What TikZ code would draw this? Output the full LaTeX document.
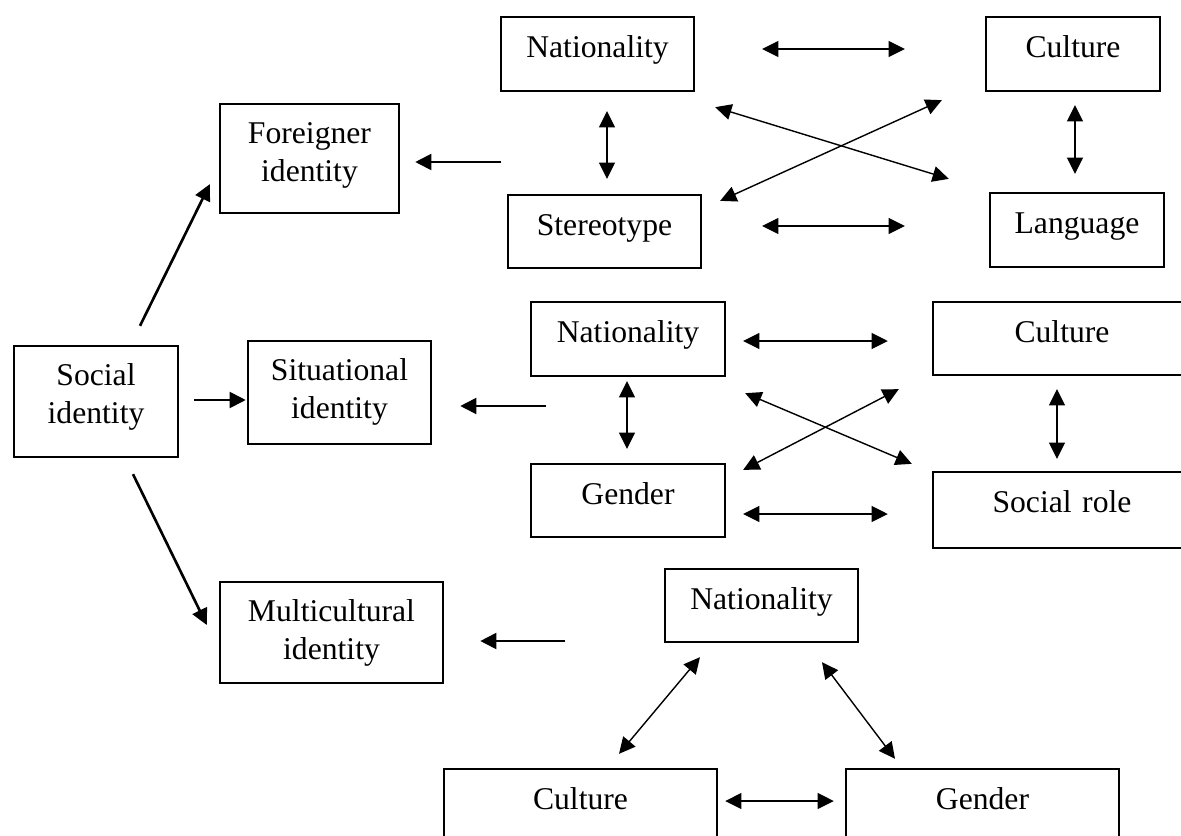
\documentclass[tikz,border=0pt]{standalone}
\usepackage{fontspec}
\setmainfont{Liberation Serif}
\usepackage{tikz}
\usetikzlibrary{arrows.meta, positioning}

\begin{document}
\begin{tikzpicture}[>={Triangle[length=4.6pt,width=4.5pt]}, x=0.01cm, y=-0.01cm,
        font=\fontsize{9}{10.8}\selectfont]
        \tikzstyle{box}=[draw=black, line width=0.65pt, inner sep=0pt, align=center, text height=0.4cm]
        \tikzstyle{link}=[<->, line width=0.4pt]
        \tikzstyle{feed}=[->, line width=0.75pt]
        \clip (0,0) rectangle (1181,836);
        % left column
        \node[box, text width=1.64cm, text depth=0.71cm](social) at (96,401.5){Social\\identity};
        \node[box, text width=1.79cm, text depth=0.69cm](foreign) at (309.5,158.5){Foreigner\\identity};
        \node[box, text width=1.83cm, text depth=0.63cm](situ) at (339.5,392.5){Situational\\identity};
        \node[box, text width=2.23cm, text depth=0.61cm](multi) at (331.5,632.5){Multicultural\\identity};
        % first group
        \node[box, text width=1.93cm, text depth=0.34cm](natA) at (597.5,54){Nationality};
        \node[box, text width=1.74cm, text depth=0.34cm](cultA) at (1073,54){Culture};
        \node[box, text width=1.93cm, text depth=0.33cm](stereo) at (604.5,231.5){Stereotype};
        \node[box, text width=1.74cm, text depth=0.34cm](lang) at (1077,230){Language};
        % second group
        \node[box, text width=1.94cm, text depth=0.34cm](natB) at (628,339){Nationality};
        \node[box, text width=2.58cm, text depth=0.33cm](cultB) at (1062,338.5){Culture};
        \node[box, text width=1.94cm, text depth=0.33cm](gendB) at (628,500.5){Gender};
        \node[box, text width=2.58cm, text depth=0.36cm](role) at (1062,510){Social role};
        % third group
        \node[box, text width=1.93cm, text depth=0.33cm](natC) at (761.5,605.5){Nationality};
        \node[box, text width=2.73cm, text depth=0.34cm](cultC) at (580.5,806){Culture};
        \node[box, text width=2.73cm, text depth=0.34cm](gendC) at (982.5,806){Gender};

        \coordinate (grpA) at (501,162);
        \coordinate (grpB) at (546,406);
        \coordinate (grpC) at (565,641);

        \draw[feed] ([shift={(44,-19)}]social.north) -- ([shift={(-9,-30)}]foreign.south west);
        \draw[feed] ([shift={(15,-1.5)}]social.east) -- ([shift={(-1,7.5)}]situ.west);
        \draw[feed] ([shift={(37,16)}]social.south) -- ([shift={(-12,-7.5)}]multi.west);
        \draw[feed, shorten >=0.15cm] (grpA) -- (grpA -| foreign.east);
        \draw[feed, shorten >=0.28cm] (grpB) -- (grpB -| situ.east);
        \draw[feed, shorten >=0.36cm] (grpC) -- (grpC -| multi.east);

        \draw[link] ([shift={(67,-5)}]natA.east) -- ([shift={(-80,-5)}]cultA.west);
        \draw[link] ([shift={(60,-5.5)}]stereo.east) -- ([shift={(-84,-4)}]lang.west);
        \draw[link] ([shift={(9.5,19)}]natA.south) -- ([shift={(2.5,-15)}]stereo.north);
        \draw[link] ([shift={(2,13)}]cultA.south) -- ([shift={(-2,-18)}]lang.north);
        \draw[link] ([shift={(20,15)}]natA.south east) -- ([shift={(-40,-13)}]lang.north west);
        \draw[link] ([shift={(-43,8)}]cultA.south west) -- ([shift={(18,7)}]stereo.north east);

        \draw[link] ([shift={(17,2)}]natB.east) -- ([shift={(-44,2.5)}]cultB.west);
        \draw[link] ([shift={(17,13.5)}]gendB.east) -- ([shift={(-44,4)}]role.west);
        \draw[link] ([shift={(-1,4)}]natB.south) -- ([shift={(-1,-14)}]gendB.north);
        \draw[link] ([shift={(-5,13)}]cultB.south) -- ([shift={(-5,-12)}]role.north);
        \draw[link] ([shift={(19,16)}]natB.south east) -- ([shift={(-20,-7)}]role.north west);
        \draw[link] ([shift={(-33,13)}]cultB.south west) -- ([shift={(17,7)}]gendB.north east);

        \draw[link] ([shift={(-61.5,14)}]natC.south) -- ([shift={(38.5,-14)}]cultC.north);
        \draw[link] ([shift={(60.5,19)}]natC.south) -- ([shift={(-87.5,-9)}]gendC.north);
        \draw[link] ([shift={(7,-5)}]cultC.east) -- ([shift={(-11,-5)}]gendC.west);
\end{tikzpicture}
\end{document}
